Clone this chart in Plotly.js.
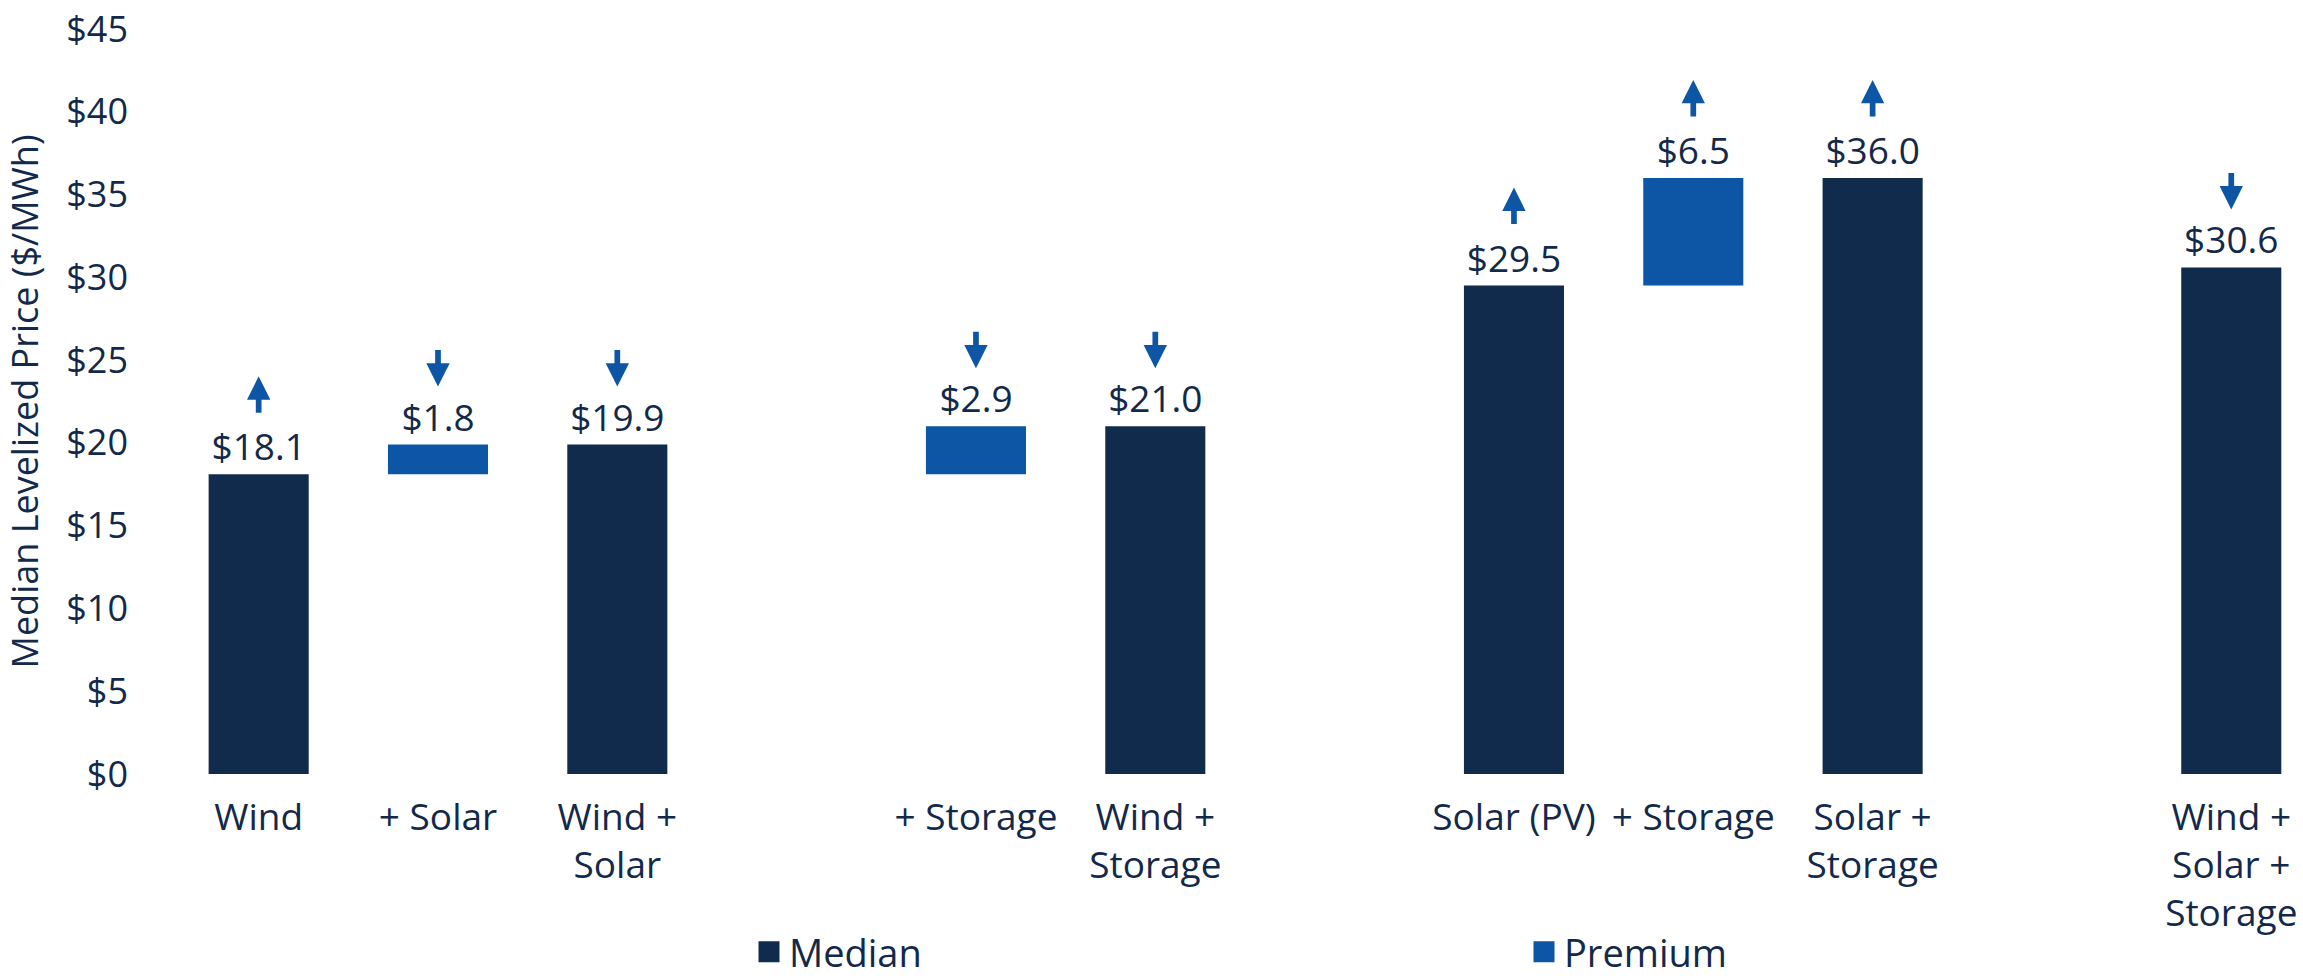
<!DOCTYPE html>
<html>
<head>
<meta charset="utf-8">
<script src="https://cdn.plot.ly/plotly-3.0.1.min.js"></script>
<style>
  html, body { margin: 0; padding: 0; background: #ffffff; }
  #chart { width: 2303px; height: 979px; }
</style>
</head>
<body>
<div id="chart"></div>
<script>
// Median levelized PPA prices, with the premium added by each hybrid component
const categories = ['Wind', '+ Solar', 'Wind +<br>Solar', '+ Storage', 'Wind +<br>Storage',
                    'Solar (PV)', '+ Storage', 'Solar +<br>Storage', 'Wind +<br>Solar +<br>Storage'];
const groupIndex = [0, 0, 0, 1, 1, 2, 2, 2, 3];
const barKind    = ['median', 'premium', 'median', 'premium', 'median', 'median', 'premium', 'median', 'median'];
const values     = [18.1, 1.8, 19.9, 2.9, 21.0, 29.5, 6.5, 36.0, 30.6];
const baseValues = [0, 18.1, 0, 18.1, 0, 0, 29.5, 0, 0];
const trend      = ['up', 'down', 'down', 'down', 'down', 'up', 'up', 'up', 'down'];
const yTicks     = [0, 5, 10, 15, 20, 25, 30, 35, 40, 45];

const NAVY = '#112B4C';
const BLUE = '#0D56A6';
const TEXT = '#13294B';
const FONT = 'Open Sans, sans-serif';

// one empty slot separates consecutive groups
const positions = categories.map((c, i) => i + groupIndex[i]);

function pick(kind) {
  const idx = barKind.map((k, i) => k === kind ? i : -1).filter(i => i >= 0);
  return {
    x: idx.map(i => positions[i]),
    y: idx.map(i => values[i]),
    base: idx.map(i => baseValues[i]),
    text: idx.map(i => '$' + values[i].toFixed(1))
  };
}

const med = pick('median');
const prem = pick('premium');

const barCommon = {
  type: 'bar',
  width: 0.558,
  textposition: 'outside',
  constraintext: 'none',
  cliponaxis: false,
  textfont: { family: FONT, size: 37, color: TEXT },
  hoverinfo: 'skip',
  showlegend: false
};

const traces = [
  Object.assign({}, barCommon, { x: med.x, y: med.y, base: med.base, text: med.text, marker: { color: NAVY }, name: 'Median' }),
  Object.assign({}, barCommon, { x: prem.x, y: prem.y, base: prem.base, text: prem.text, marker: { color: BLUE }, name: 'Premium' }),
  // legend entries
  { type: 'scatter', mode: 'markers', x: [null], y: [null], name: 'Median',
    marker: { symbol: 'square', size: 16, color: NAVY, line: { width: 5, color: NAVY } } },
  { type: 'scatter', mode: 'markers', x: [null], y: [null], name: 'Premium',
    marker: { symbol: 'square', size: 16, color: BLUE, line: { width: 5, color: BLUE } } }
];

// trend arrows floating above each bar's label
const ARROW_GAP = 60, ARROW_LEN = 38;
const annotations = categories.map((c, i) => {
  const top = baseValues[i] + values[i];
  const up = trend[i] === 'up';
  return {
    x: positions[i], y: top, xref: 'x', yref: 'y',
    text: '', showarrow: true,
    ax: 0, ay: up ? ARROW_LEN : -ARROW_LEN,
    yshift: up ? ARROW_GAP + ARROW_LEN : ARROW_GAP - 2,
    arrowhead: 2, arrowsize: 0.82, arrowwidth: 5.7, arrowcolor: BLUE,
    standoff: 0, startstandoff: 0
  };
});

const layout = {
  width: 2303, height: 979,
  margin: { l: 169, r: 0, t: 29, b: 205 },
  paper_bgcolor: '#ffffff', plot_bgcolor: '#ffffff',
  font: { family: FONT, size: 36, color: TEXT },
  barmode: 'overlay',
  showlegend: true,
  legend: {
    orientation: 'h', xref: 'container', yref: 'container',
    x: 749 / 2303, xanchor: 'left', y: 1 - 952 / 979, yanchor: 'middle',
    entrywidth: 730, font: { family: FONT, size: 38, color: TEXT },
    bgcolor: 'rgba(0,0,0,0)'
  },
  xaxis: {
    range: [-0.5, 11.4], tickmode: 'array', tickvals: positions, ticktext: categories,
    showgrid: false, zeroline: false, showline: false, ticks: '',
    tickfont: { family: FONT, size: 37, color: TEXT }, ticklabelstandoff: 18, fixedrange: true
  },
  yaxis: {
    range: [0, 45], tickmode: 'array', tickvals: yTicks, ticktext: yTicks.map(v => '$' + v),
    showgrid: false, zeroline: false, showline: false, ticks: '',
    tickfont: { family: FONT, size: 36, color: TEXT }, ticklabelstandoff: 40,
    title: { text: 'Median Levelized Price ($/MWh)', font: { family: FONT, size: 36, color: TEXT }, standoff: 20 },
    fixedrange: true
  },
  annotations: annotations
};

Plotly.newPlot('chart', traces, layout, { displayModeBar: false, staticPlot: true });
</script>
</body>
</html>
